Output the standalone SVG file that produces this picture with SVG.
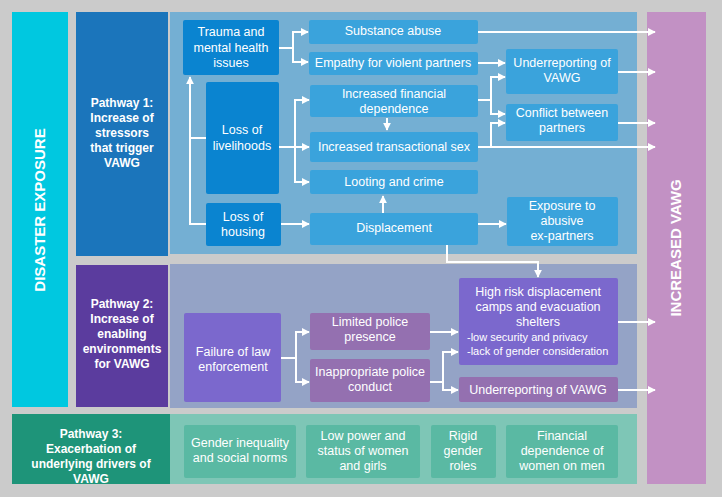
<svg xmlns="http://www.w3.org/2000/svg" width="722" height="497" viewBox="0 0 722 497">
<defs>
<marker id="ah" viewBox="0 0 10 10" refX="9" refY="5" markerWidth="4" markerHeight="4" orient="auto"><path d="M0,0L10,5L0,10z" fill="#fff"/></marker>
<style>
text{font-family:"Liberation Sans",Arial,sans-serif;fill:#fff;font-size:12.5px;text-anchor:middle}
.b{font-weight:bold;font-size:12px}
.big{font-weight:bold;font-size:15px}
.d{fill:#0a84d0}.l{fill:#3aa3dc}.p{fill:#7b68cd}.m{fill:#9470b0}.g{fill:#5ab9a3}
#conn path{fill:none;stroke:#fff;stroke-width:2;marker-end:url(#ah)}
#conn path.n{marker-end:none}
</style>
</defs>
<rect width="722" height="497" fill="#cbcbcb"/>
<g id="disaster"><rect x="12" y="12" width="56" height="395" fill="#00c8e0"/><text class="big" transform="translate(45,210) rotate(-90)">DISASTER EXPOSURE</text></g>
<g id="vawg"><rect x="647" y="12" width="59" height="472" fill="#c291c4"/><text class="big" transform="translate(681,248) rotate(-90)">INCREASED VAWG</text></g>
<rect x="170" y="12" width="467" height="242" fill="#74afd3"/>
<rect x="170" y="264" width="467" height="144" fill="#94a3c6"/>
<rect x="170" y="414" width="467" height="70" fill="#7ec6b6"/>
<g id="pw1"><rect x="76" y="12" width="92" height="244" fill="#1b75bb"/><text class="b" x="122" y="107">Pathway 1:</text><text class="b" x="122" y="122">Increase of</text><text class="b" x="122" y="137">stressors</text><text class="b" x="122" y="152">that trigger</text><text class="b" x="122" y="167">VAWG</text></g>
<g id="pw2"><rect x="76" y="265" width="92" height="142" fill="#5b3c9e"/><text class="b" x="122" y="308">Pathway 2:</text><text class="b" x="122" y="323">Increase of</text><text class="b" x="122" y="338">enabling</text><text class="b" x="122" y="353">environments</text><text class="b" x="122" y="368">for VAWG</text></g>
<g id="pw3"><rect x="12" y="414" width="158" height="70" fill="#1e9479"/><text class="b" x="91" y="438">Pathway 3:</text><text class="b" x="91" y="453">Exacerbation of</text><text class="b" x="91" y="468">underlying drivers of</text><text class="b" x="91" y="483">VAWG</text></g>
<g id="trauma"><rect class="d" x="183" y="20" width="96" height="55" rx="2"/><text x="231" y="36">Trauma and</text><text x="231" y="52">mental health</text><text x="231" y="67">issues</text></g>
<g id="livelihoods"><rect class="d" x="206" y="82" width="73" height="112" rx="2"/><text x="242" y="134">Loss of</text><text x="242" y="150">livelihoods</text></g>
<g id="housing"><rect class="d" x="206" y="203" width="75" height="43" rx="2"/><text x="243" y="221">Loss of</text><text x="243" y="236">housing</text></g>
<g id="substance"><rect class="l" x="309" y="20" width="169" height="24" rx="2"/><text x="393" y="35">Substance abuse</text></g>
<g id="empathy"><rect class="l" x="309" y="52" width="169" height="23" rx="2"/><text x="393" y="67">Empathy for violent partners</text></g>
<g id="findep"><rect class="l" x="310" y="85" width="168" height="32" rx="2"/><text x="394" y="98">Increased financial</text><text x="394" y="113">dependence</text></g>
<g id="transsex"><rect class="l" x="310" y="132" width="168" height="30" rx="2"/><text x="394" y="151">Increased transactional sex</text></g>
<g id="looting"><rect class="l" x="310" y="170" width="168" height="24" rx="2"/><text x="394" y="186">Looting and crime</text></g>
<g id="displacement"><rect class="l" x="310" y="213" width="168" height="32" rx="2"/><text x="394" y="232">Displacement</text></g>
<g id="underrep1"><rect class="l" x="506" y="49" width="112" height="45" rx="2"/><text x="562" y="67">Underreporting of</text><text x="562" y="82">VAWG</text></g>
<g id="conflict"><rect class="l" x="506" y="104" width="112" height="37" rx="2"/><text x="562" y="117">Conflict between</text><text x="562" y="132">partners</text></g>
<g id="exposure"><rect class="l" x="507" y="197" width="111" height="49" rx="2"/><text x="562" y="210">Exposure to</text><text x="562" y="225">abusive</text><text x="562" y="240">ex-partners</text></g>
<g id="failure"><rect class="p" x="184" y="313" width="97" height="89" rx="2"/><text x="233" y="356">Failure of law</text><text x="233" y="371">enforcement</text></g>
<g id="limited"><rect class="m" x="310" y="313" width="120" height="37" rx="2"/><text x="370" y="326">Limited police</text><text x="370" y="341">presence</text></g>
<g id="inappropriate"><rect class="m" x="310" y="359" width="120" height="43" rx="2"/><text x="370" y="376">Inappropriate police</text><text x="370" y="391">conduct</text></g>
<g id="highrisk"><rect class="p" x="459" y="278" width="159" height="87" rx="2"/><text x="538" y="296">High risk displacement</text><text x="538" y="311">camps and evacuation</text><text x="538" y="326">shelters</text><text x="467" y="341" style="text-anchor:start;font-size:11px">-low security and privacy</text><text x="467" y="355" style="text-anchor:start;font-size:11px">-lack of gender consideration</text></g>
<g id="underrep2"><rect class="m" x="459" y="377" width="159" height="25" rx="2"/><text x="538" y="394">Underreporting of VAWG</text></g>
<g id="gender"><rect class="g" x="184" y="425" width="112" height="53" rx="2"/><text x="240" y="447">Gender inequality</text><text x="240" y="462">and social norms</text></g>
<g id="lowpower"><rect class="g" x="306" y="425" width="114" height="53" rx="2"/><text x="363" y="440">Low power and</text><text x="363" y="455">status of women</text><text x="363" y="470">and girls</text></g>
<g id="rigid"><rect class="g" x="431" y="425" width="65" height="53" rx="2"/><text x="463" y="440">Rigid</text><text x="463" y="455">gender</text><text x="463" y="470">roles</text></g>
<g id="financial"><rect class="g" x="506" y="425" width="112" height="53" rx="2"/><text x="562" y="440">Financial</text><text x="562" y="455">dependence of</text><text x="562" y="470">women on men</text></g>
<g id="conn">
<path d="M478,32H655"/><path d="M618,72H655"/><path d="M618,123H655"/><path d="M478,147H655"/><path d="M618,322H655"/><path d="M618,390H655"/>
<path class="n" d="M279,48H293"/><path d="M293,48V32H308"/><path d="M293,48V62H308"/>
<path d="M478,63H505"/>
<path class="n" d="M478,100H491"/><path d="M491,100V77H505"/><path d="M491,100V114H505"/><path d="M491,147V123H505"/>
<path d="M387,118V130"/>
<path class="n" d="M279,147H295"/><path d="M295,147V100H309"/><path d="M295,147H309"/><path d="M295,147V182H309"/>
<path class="n" d="M206,138H190"/><path d="M206,224H190V77"/>
<path d="M281,224H309"/><path d="M383,213V196"/><path d="M478,224H506"/>
<path d="M447,245V262H538V277"/>
<path class="n" d="M281,358H296"/><path d="M296,358V332H309"/><path d="M296,358V382H309"/>
<path d="M430,332H458"/>
<path class="n" d="M430,382H443"/><path d="M443,382V352H458"/><path d="M443,382V390H458"/>
</g>
</svg>
